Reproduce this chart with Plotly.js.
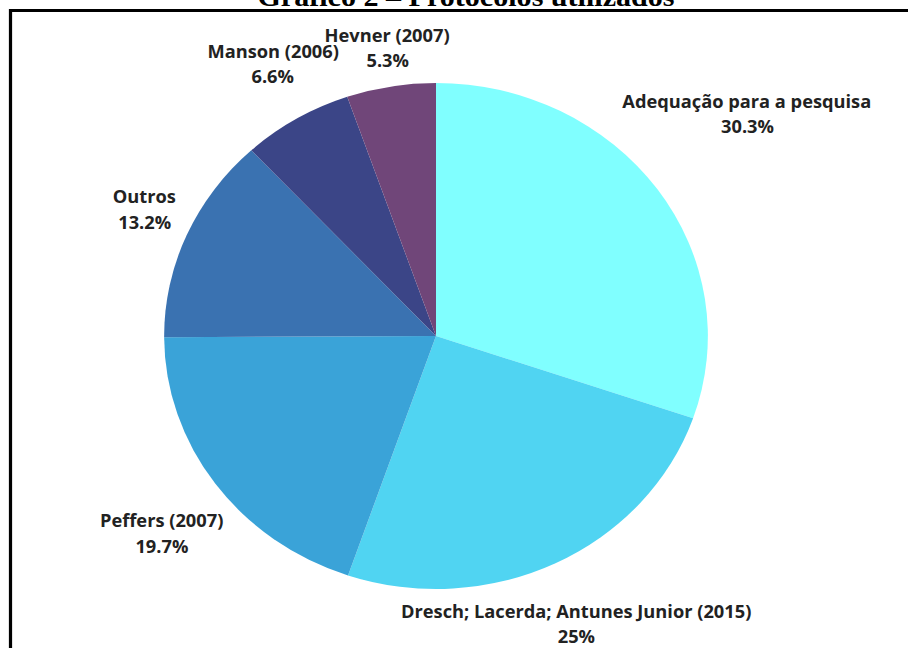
<!DOCTYPE html>
<html><head><meta charset="utf-8">
<script src="https://cdn.plot.ly/plotly-3.0.1.min.js"></script>
<style>
html,body{margin:0;padding:0;background:#fff;overflow:hidden;width:908px;height:648px}
#chart{width:845px;height:648px;transform-origin:0 0;transform:scaleX(1.074556);}
</style></head>
<body><div id="chart"></div>
<script>
const chartTitle = 'Gráfico 2 – Protocolos utilizados';
const labels = ['Adequação para a pesquisa', 'Dresch; Lacerda; Antunes Junior (2015)', 'Peffers (2007)', 'Outros', 'Manson (2006)', 'Hevner (2007)'];
const values = [30.3, 25, 19.7, 13.2, 6.6, 5.3];
const colors = ['#80FFFF', '#50D4F2', '#3AA3D8', '#3A72B1', '#3B4587', '#704679'];

// layout geometry (screen px)
const SCREEN_W = 908, H = 648, W = 845, SX = SCREEN_W / W;
const CX_S = 436, CY = 336, R = 253;
const RX_S = R * SX;
const cx = CX_S / SX;
const FONT_SIZE = 17, LINE = 25.5, HALF_H = 25, GAP = 10;
const labelFont = {family: 'Open Sans, sans-serif', size: FONT_SIZE, color: '#222222', weight: 700};

const ctx = document.createElement('canvas').getContext('2d');
ctx.font = 'bold ' + FONT_SIZE + 'px "Open Sans"';
const total = values.reduce((a, b) => a + b, 0);
let cum = 0;
const annotations = [];
labels.forEach((lab, i) => {
  const th = (cum + values[i] / 2) / total * 2 * Math.PI;
  cum += values[i];
  const dx = Math.sin(th), dy = -Math.cos(th);
  const pct = values[i] + '%';
  const hw = Math.max(ctx.measureText(lab).width, ctx.measureText(pct).width) * SX / 2;
  const ex = RX_S + GAP, ey = R + GAP;
  const clear = t => {
    const px = Math.max(0, Math.abs(dx * t) - hw), py = Math.max(0, Math.abs(dy * t) - HALF_H);
    return (px / ex) ** 2 + (py / ey) ** 2 >= 1;
  };
  let lo = 0, hi = 1200;
  for (let k = 0; k < 50; k++) { const m = (lo + hi) / 2; if (clear(m)) hi = m; else lo = m; }
  const sxp = CX_S + dx * hi, syp = CY + dy * hi;
  [[lab, -LINE / 2], [pct, LINE / 2]].forEach(([txt, off]) => {
    annotations.push({
      text: txt, xref: 'paper', yref: 'paper',
      x: sxp / SCREEN_W, y: 1 - (syp + off) / H,
      xanchor: 'center', yanchor: 'middle', showarrow: false, font: labelFont
    });
  });
});

const trace = {
  type: 'pie', labels: labels, values: values, sort: false, direction: 'clockwise', rotation: 0,
  marker: {colors: colors, line: {width: 0}}, textinfo: 'none', hoverinfo: 'none', showlegend: false,
  domain: {x: [(cx - R) / W, (cx + R) / W], y: [1 - (CY + R) / H, 1 - (CY - R) / H]}
};

const layout = {
  width: W, height: H, margin: {l: 0, r: 0, t: 0, b: 0},
  paper_bgcolor: '#ffffff', plot_bgcolor: '#ffffff',
  title: {text: '<b>' + chartTitle + '</b>', font: {family: 'Liberation Serif, serif', size: 28, color: '#000000'},
          x: 466 / SCREEN_W, xanchor: 'center', xref: 'container', y: 1 - 6 / H, yref: 'container', yanchor: 'bottom'},
  annotations: annotations,
  shapes: [{type: 'rect', xref: 'paper', yref: 'paper', x0: 10.5 / SCREEN_W, x1: 1.1, y0: -0.1, y1: 1 - 10.5 / H,
            line: {color: '#000000', width: 3}, fillcolor: 'rgba(0,0,0,0)', layer: 'above'}]
};

Plotly.newPlot('chart', [trace], layout, {staticPlot: true, displayModeBar: false});
</script>
</body></html>
